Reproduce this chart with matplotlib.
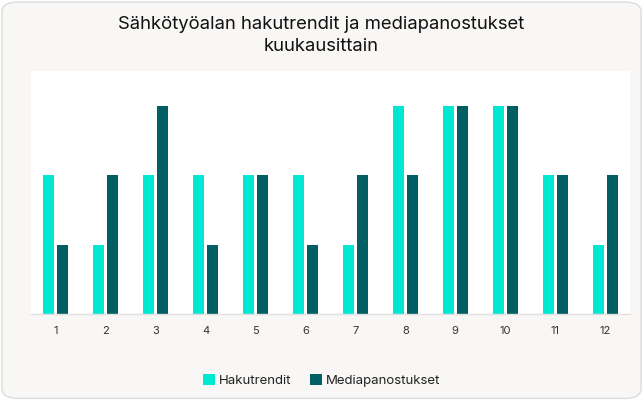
import numpy as np
import matplotlib.pyplot as plt
from matplotlib.patches import FancyBboxPatch

plt.rcParams['font.family'] = ['Inter', 'DejaVu Sans']

# data
months = ['1', '2', '3', '4', '5', '6', '7', '8', '9', '10', '11', '12']
hakutrendit = [2, 1, 2, 2, 2, 2, 1, 3, 3, 3, 2, 1]
media = [1, 2, 3, 1, 2, 1, 2, 2, 3, 3, 2, 2]

c_haku = '#00e8d2'
c_media = '#005f63'

fig = plt.figure(figsize=(6.43, 4.0), dpi=100)
fig.patch.set_facecolor('white')

# card background
card = FancyBboxPatch((0.003, 0.004), 0.994, 0.991,
                      boxstyle='round,pad=0,rounding_size=0.025',
                      transform=fig.transFigure, facecolor='#f8f7f5',
                      edgecolor='#dcdcdc', linewidth=1.0, zorder=-10)
fig.patches.append(card)

ax = fig.add_axes([31 / 643, 86 / 400, 599 / 643, 243 / 400])
ax.set_facecolor('white')

x = np.arange(len(months))
w = 0.22
ax.bar(x - 0.14, hakutrendit, w, color=c_haku, label='Hakutrendit', zorder=2)
ax.bar(x + 0.14, media, w, color=c_media, label='Mediapanostukset', zorder=2)

ax.set_xlim(-0.5, len(months) - 0.5)
ax.set_ylim(0, 3.5)
ax.set_xticks(x)
ax.set_xticklabels(months, fontsize=8, color='#333333')
ax.tick_params(axis='x', length=0, pad=9)
ax.set_yticks([])
for s in ['top', 'right', 'left']:
    ax.spines[s].set_visible(False)
ax.spines['bottom'].set_color('#e0e0e0')
ax.spines['bottom'].set_linewidth(1.0)

fig.text(0.5, 0.912, 'Sähkötyöalan hakutrendit ja mediapanostukset\nkuukausittain',
         ha='center', va='center', fontsize=13.3, color='#111111', linespacing=1.4)

fig.legend(loc='center', bbox_to_anchor=(0.5, 0.048), ncol=2, frameon=False,
           fontsize=9.5, handlelength=0.9, handleheight=0.9, handletextpad=0.3,
           columnspacing=1.4, labelcolor='#222222')

fig.savefig('out.png', dpi=100, facecolor=fig.get_facecolor())
